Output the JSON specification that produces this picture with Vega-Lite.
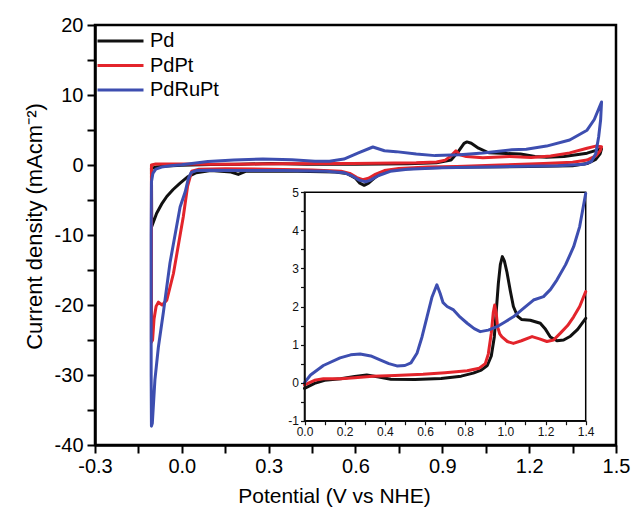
{
  "$schema": "https://vega.github.io/schema/vega-lite/v6.json",
  "width": 521,
  "height": 420,
  "autosize": {"type": "none"},
  "padding": {"left": 95, "top": 25, "right": 17, "bottom": 72},
  "background": "white",
  "config": {
    "view": {"stroke": "black", "strokeWidth": 2.5},
    "font": "Liberation Sans",
    "axis": {"labelFont": "Liberation Sans", "titleFont": "Liberation Sans", "labelColor": "black", "titleColor": "black", "domainColor": "black", "tickColor": "black", "grid": false, "titleFontWeight": "normal"}
  },
  "datasets": {
    "main": [
      {"s":"Pd","i":0,"V":-0.105,"I":-0.5},{"s":"Pd","i":1,"V":-0.09,"I":-0.3},{"s":"Pd","i":2,"V":-0.05,"I":-0.15},{"s":"Pd","i":3,"V":0,"I":-0.05},{"s":"Pd","i":4,"V":0.1,"I":0.06},{"s":"Pd","i":5,"V":0.2,"I":0.12},{"s":"Pd","i":6,"V":0.31,"I":0.2},{"s":"Pd","i":7,"V":0.43,"I":0.1},{"s":"Pd","i":8,"V":0.6,"I":0.1},{"s":"Pd","i":9,"V":0.78,"I":0.17},{"s":"Pd","i":10,"V":0.88,"I":0.33},{"s":"Pd","i":11,"V":0.93,"I":0.7},{"s":"Pd","i":12,"V":0.955,"I":1.9},{"s":"Pd","i":13,"V":0.975,"I":3.1},{"s":"Pd","i":14,"V":0.985,"I":3.3},{"s":"Pd","i":15,"V":1.0,"I":3.1},{"s":"Pd","i":16,"V":1.025,"I":2.4},{"s":"Pd","i":17,"V":1.06,"I":1.75},{"s":"Pd","i":18,"V":1.12,"I":1.64},{"s":"Pd","i":19,"V":1.17,"I":1.56},{"s":"Pd","i":20,"V":1.22,"I":1.2},{"s":"Pd","i":21,"V":1.26,"I":1.1},{"s":"Pd","i":22,"V":1.32,"I":1.22},{"s":"Pd","i":23,"V":1.4,"I":1.69},{"s":"Pd","i":24,"V":1.44,"I":2.2},{"s":"Pd","i":25,"V":1.45,"I":2.3},{"s":"Pd","i":26,"V":1.445,"I":1.6},{"s":"Pd","i":27,"V":1.43,"I":0.8},{"s":"Pd","i":28,"V":1.4,"I":0.2},{"s":"Pd","i":29,"V":1.35,"I":-0.1},{"s":"Pd","i":30,"V":1.2,"I":-0.2},{"s":"Pd","i":31,"V":1.0,"I":-0.3},{"s":"Pd","i":32,"V":0.85,"I":-0.4},{"s":"Pd","i":33,"V":0.75,"I":-0.6},{"s":"Pd","i":34,"V":0.7,"I":-0.9},{"s":"Pd","i":35,"V":0.67,"I":-1.7},{"s":"Pd","i":36,"V":0.645,"I":-2.6},{"s":"Pd","i":37,"V":0.63,"I":-2.9},{"s":"Pd","i":38,"V":0.615,"I":-2.6},{"s":"Pd","i":39,"V":0.6,"I":-1.9},{"s":"Pd","i":40,"V":0.57,"I":-1.2},{"s":"Pd","i":41,"V":0.53,"I":-1.0},{"s":"Pd","i":42,"V":0.4,"I":-0.9},{"s":"Pd","i":43,"V":0.3,"I":-0.85},{"s":"Pd","i":44,"V":0.22,"I":-0.9},{"s":"Pd","i":45,"V":0.195,"I":-1.35},{"s":"Pd","i":46,"V":0.17,"I":-1.0},{"s":"Pd","i":47,"V":0.1,"I":-0.8},{"s":"Pd","i":48,"V":0.05,"I":-1.1},{"s":"Pd","i":49,"V":0.02,"I":-1.7},{"s":"Pd","i":50,"V":-0.006,"I":-2.6},{"s":"Pd","i":51,"V":-0.03,"I":-3.5},{"s":"Pd","i":52,"V":-0.052,"I":-4.5},{"s":"Pd","i":53,"V":-0.07,"I":-5.6},{"s":"Pd","i":54,"V":-0.087,"I":-6.9},{"s":"Pd","i":55,"V":-0.104,"I":-8.8},{"s":"Pd","i":56,"V":-0.105,"I":-0.5},
      {"s":"PdPt","i":0,"V":-0.105,"I":0.0},{"s":"PdPt","i":1,"V":-0.09,"I":0.15},{"s":"PdPt","i":2,"V":0,"I":0.15},{"s":"PdPt","i":3,"V":0.1,"I":0.12},{"s":"PdPt","i":4,"V":0.18,"I":0.12},{"s":"PdPt","i":5,"V":0.34,"I":0.17},{"s":"PdPt","i":6,"V":0.59,"I":0.22},{"s":"PdPt","i":7,"V":0.81,"I":0.31},{"s":"PdPt","i":8,"V":0.88,"I":0.42},{"s":"PdPt","i":9,"V":0.91,"I":0.7},{"s":"PdPt","i":10,"V":0.93,"I":1.3},{"s":"PdPt","i":11,"V":0.947,"I":2.04},{"s":"PdPt","i":12,"V":0.961,"I":1.47},{"s":"PdPt","i":13,"V":0.983,"I":1.2},{"s":"PdPt","i":14,"V":1.04,"I":1.03},{"s":"PdPt","i":15,"V":1.133,"I":1.21},{"s":"PdPt","i":16,"V":1.207,"I":1.08},{"s":"PdPt","i":17,"V":1.274,"I":1.3},{"s":"PdPt","i":18,"V":1.34,"I":1.73},{"s":"PdPt","i":19,"V":1.4,"I":2.39},{"s":"PdPt","i":20,"V":1.43,"I":2.7},{"s":"PdPt","i":21,"V":1.45,"I":2.6},{"s":"PdPt","i":22,"V":1.445,"I":2.0},{"s":"PdPt","i":23,"V":1.43,"I":1.3},{"s":"PdPt","i":24,"V":1.4,"I":0.7},{"s":"PdPt","i":25,"V":1.35,"I":0.4},{"s":"PdPt","i":26,"V":1.25,"I":0.2},{"s":"PdPt","i":27,"V":1.1,"I":0.0},{"s":"PdPt","i":28,"V":0.95,"I":-0.2},{"s":"PdPt","i":29,"V":0.85,"I":-0.3},{"s":"PdPt","i":30,"V":0.75,"I":-0.5},{"s":"PdPt","i":31,"V":0.7,"I":-0.8},{"s":"PdPt","i":32,"V":0.67,"I":-1.3},{"s":"PdPt","i":33,"V":0.645,"I":-1.9},{"s":"PdPt","i":34,"V":0.625,"I":-2.1},{"s":"PdPt","i":35,"V":0.605,"I":-1.8},{"s":"PdPt","i":36,"V":0.58,"I":-1.2},{"s":"PdPt","i":37,"V":0.55,"I":-0.9},{"s":"PdPt","i":38,"V":0.45,"I":-0.7},{"s":"PdPt","i":39,"V":0.3,"I":-0.6},{"s":"PdPt","i":40,"V":0.15,"I":-0.55},{"s":"PdPt","i":41,"V":0.06,"I":-0.6},{"s":"PdPt","i":42,"V":0.034,"I":-0.9},{"s":"PdPt","i":43,"V":0.02,"I":-3.0},{"s":"PdPt","i":44,"V":0.005,"I":-7.4},{"s":"PdPt","i":45,"V":-0.029,"I":-15.5},{"s":"PdPt","i":46,"V":-0.052,"I":-19.3},{"s":"PdPt","i":47,"V":-0.068,"I":-20.0},{"s":"PdPt","i":48,"V":-0.081,"I":-19.6},{"s":"PdPt","i":49,"V":-0.089,"I":-20.2},{"s":"PdPt","i":50,"V":-0.096,"I":-22.0},{"s":"PdPt","i":51,"V":-0.101,"I":-25.0},{"s":"PdPt","i":52,"V":-0.105,"I":-25.3},{"s":"PdPt","i":53,"V":-0.105,"I":0.0},
      {"s":"PdRuPt","i":0,"V":-0.105,"I":-2.4},{"s":"PdRuPt","i":1,"V":-0.1,"I":-1.2},{"s":"PdRuPt","i":2,"V":-0.09,"I":-0.6},{"s":"PdRuPt","i":3,"V":-0.07,"I":-0.3},{"s":"PdRuPt","i":4,"V":-0.04,"I":-0.1},{"s":"PdRuPt","i":5,"V":0,"I":0.05},{"s":"PdRuPt","i":6,"V":0.09,"I":0.5},{"s":"PdRuPt","i":7,"V":0.18,"I":0.7},{"s":"PdRuPt","i":8,"V":0.28,"I":0.85},{"s":"PdRuPt","i":9,"V":0.38,"I":0.75},{"s":"PdRuPt","i":10,"V":0.46,"I":0.55},{"s":"PdRuPt","i":11,"V":0.51,"I":0.55},{"s":"PdRuPt","i":12,"V":0.56,"I":0.85},{"s":"PdRuPt","i":13,"V":0.61,"I":1.73},{"s":"PdRuPt","i":14,"V":0.66,"I":2.57},{"s":"PdRuPt","i":15,"V":0.7,"I":2.04},{"s":"PdRuPt","i":16,"V":0.74,"I":1.91},{"s":"PdRuPt","i":17,"V":0.81,"I":1.56},{"s":"PdRuPt","i":18,"V":0.875,"I":1.34},{"s":"PdRuPt","i":19,"V":0.96,"I":1.47},{"s":"PdRuPt","i":20,"V":1.04,"I":1.73},{"s":"PdRuPt","i":21,"V":1.14,"I":2.17},{"s":"PdRuPt","i":22,"V":1.19,"I":2.26},{"s":"PdRuPt","i":23,"V":1.26,"I":2.7},{"s":"PdRuPt","i":24,"V":1.34,"I":3.57},{"s":"PdRuPt","i":25,"V":1.4,"I":4.97},{"s":"PdRuPt","i":26,"V":1.425,"I":6.5},{"s":"PdRuPt","i":27,"V":1.44,"I":8.0},{"s":"PdRuPt","i":28,"V":1.45,"I":9.0},{"s":"PdRuPt","i":29,"V":1.447,"I":6.5},{"s":"PdRuPt","i":30,"V":1.44,"I":4.0},{"s":"PdRuPt","i":31,"V":1.43,"I":1.6},{"s":"PdRuPt","i":32,"V":1.415,"I":0.5},{"s":"PdRuPt","i":33,"V":1.39,"I":0.1},{"s":"PdRuPt","i":34,"V":1.3,"I":-0.1},{"s":"PdRuPt","i":35,"V":1.1,"I":-0.25},{"s":"PdRuPt","i":36,"V":0.9,"I":-0.4},{"s":"PdRuPt","i":37,"V":0.78,"I":-0.6},{"s":"PdRuPt","i":38,"V":0.72,"I":-0.9},{"s":"PdRuPt","i":39,"V":0.68,"I":-1.5},{"s":"PdRuPt","i":40,"V":0.65,"I":-2.2},{"s":"PdRuPt","i":41,"V":0.635,"I":-2.4},{"s":"PdRuPt","i":42,"V":0.615,"I":-2.2},{"s":"PdRuPt","i":43,"V":0.59,"I":-1.6},{"s":"PdRuPt","i":44,"V":0.56,"I":-1.1},{"s":"PdRuPt","i":45,"V":0.5,"I":-0.9},{"s":"PdRuPt","i":46,"V":0.35,"I":-0.8},{"s":"PdRuPt","i":47,"V":0.2,"I":-0.8},{"s":"PdRuPt","i":48,"V":0.1,"I":-0.75},{"s":"PdRuPt","i":49,"V":0.05,"I":-0.8},{"s":"PdRuPt","i":50,"V":0.032,"I":-1.1},{"s":"PdRuPt","i":51,"V":0.022,"I":-2.0},{"s":"PdRuPt","i":52,"V":0.012,"I":-3.8},{"s":"PdRuPt","i":53,"V":-0.006,"I":-6.0},{"s":"PdRuPt","i":54,"V":-0.041,"I":-14.0},{"s":"PdRuPt","i":55,"V":-0.064,"I":-21.1},{"s":"PdRuPt","i":56,"V":-0.081,"I":-26.0},{"s":"PdRuPt","i":57,"V":-0.093,"I":-30.7},{"s":"PdRuPt","i":58,"V":-0.102,"I":-36.9},{"s":"PdRuPt","i":59,"V":-0.105,"I":-37.3},{"s":"PdRuPt","i":60,"V":-0.106,"I":-30.0},{"s":"PdRuPt","i":61,"V":-0.106,"I":-10.0},{"s":"PdRuPt","i":62,"V":-0.105,"I":-2.4}
    ],
    "inset": [
      {"s":"Pd","i":0,"V":0,"I":-0.15},{"s":"Pd","i":1,"V":0.05,"I":-0.02},{"s":"Pd","i":2,"V":0.1,"I":0.06},{"s":"Pd","i":3,"V":0.18,"I":0.1},{"s":"Pd","i":4,"V":0.25,"I":0.16},{"s":"Pd","i":5,"V":0.31,"I":0.2},{"s":"Pd","i":6,"V":0.37,"I":0.15},{"s":"Pd","i":7,"V":0.43,"I":0.09},{"s":"Pd","i":8,"V":0.55,"I":0.08},{"s":"Pd","i":9,"V":0.68,"I":0.11},{"s":"Pd","i":10,"V":0.78,"I":0.17},{"s":"Pd","i":11,"V":0.84,"I":0.25},{"s":"Pd","i":12,"V":0.88,"I":0.33},{"s":"Pd","i":13,"V":0.91,"I":0.45},{"s":"Pd","i":14,"V":0.93,"I":0.7},{"s":"Pd","i":15,"V":0.945,"I":1.2},{"s":"Pd","i":16,"V":0.955,"I":1.9},{"s":"Pd","i":17,"V":0.965,"I":2.6},{"s":"Pd","i":18,"V":0.975,"I":3.1},{"s":"Pd","i":19,"V":0.985,"I":3.31},{"s":"Pd","i":20,"V":0.995,"I":3.2},{"s":"Pd","i":21,"V":1.008,"I":2.9},{"s":"Pd","i":22,"V":1.025,"I":2.4},{"s":"Pd","i":23,"V":1.04,"I":2.0},{"s":"Pd","i":24,"V":1.06,"I":1.75},{"s":"Pd","i":25,"V":1.08,"I":1.66},{"s":"Pd","i":26,"V":1.124,"I":1.64},{"s":"Pd","i":27,"V":1.174,"I":1.56},{"s":"Pd","i":28,"V":1.2,"I":1.4},{"s":"Pd","i":29,"V":1.224,"I":1.2},{"s":"Pd","i":30,"V":1.257,"I":1.1},{"s":"Pd","i":31,"V":1.29,"I":1.12},{"s":"Pd","i":32,"V":1.324,"I":1.22},{"s":"Pd","i":33,"V":1.36,"I":1.4},{"s":"Pd","i":34,"V":1.4,"I":1.69},
      {"s":"PdPt","i":0,"V":0,"I":-0.06},{"s":"PdPt","i":1,"V":0.05,"I":0.06},{"s":"PdPt","i":2,"V":0.094,"I":0.1},{"s":"PdPt","i":3,"V":0.18,"I":0.1},{"s":"PdPt","i":4,"V":0.25,"I":0.13},{"s":"PdPt","i":5,"V":0.34,"I":0.17},{"s":"PdPt","i":6,"V":0.45,"I":0.19},{"s":"PdPt","i":7,"V":0.59,"I":0.22},{"s":"PdPt","i":8,"V":0.7,"I":0.26},{"s":"PdPt","i":9,"V":0.81,"I":0.31},{"s":"PdPt","i":10,"V":0.87,"I":0.38},{"s":"PdPt","i":11,"V":0.9,"I":0.5},{"s":"PdPt","i":12,"V":0.915,"I":0.75},{"s":"PdPt","i":13,"V":0.93,"I":1.3},{"s":"PdPt","i":14,"V":0.94,"I":1.85},{"s":"PdPt","i":15,"V":0.947,"I":2.04},{"s":"PdPt","i":16,"V":0.955,"I":1.8},{"s":"PdPt","i":17,"V":0.961,"I":1.47},{"s":"PdPt","i":18,"V":0.972,"I":1.28},{"s":"PdPt","i":19,"V":0.983,"I":1.2},{"s":"PdPt","i":20,"V":1.01,"I":1.08},{"s":"PdPt","i":21,"V":1.04,"I":1.03},{"s":"PdPt","i":22,"V":1.08,"I":1.1},{"s":"PdPt","i":23,"V":1.133,"I":1.21},{"s":"PdPt","i":24,"V":1.17,"I":1.15},{"s":"PdPt","i":25,"V":1.207,"I":1.08},{"s":"PdPt","i":26,"V":1.24,"I":1.12},{"s":"PdPt","i":27,"V":1.274,"I":1.3},{"s":"PdPt","i":28,"V":1.31,"I":1.5},{"s":"PdPt","i":29,"V":1.34,"I":1.73},{"s":"PdPt","i":30,"V":1.37,"I":2.0},{"s":"PdPt","i":31,"V":1.4,"I":2.39},
      {"s":"PdRuPt","i":0,"V":0,"I":0.0},{"s":"PdRuPt","i":1,"V":0.03,"I":0.2},{"s":"PdRuPt","i":2,"V":0.094,"I":0.45},{"s":"PdRuPt","i":3,"V":0.177,"I":0.65},{"s":"PdRuPt","i":4,"V":0.23,"I":0.73},{"s":"PdRuPt","i":5,"V":0.277,"I":0.75},{"s":"PdRuPt","i":6,"V":0.33,"I":0.7},{"s":"PdRuPt","i":7,"V":0.376,"I":0.6},{"s":"PdRuPt","i":8,"V":0.42,"I":0.5},{"s":"PdRuPt","i":9,"V":0.46,"I":0.44},{"s":"PdRuPt","i":10,"V":0.5,"I":0.45},{"s":"PdRuPt","i":11,"V":0.53,"I":0.52},{"s":"PdRuPt","i":12,"V":0.56,"I":0.77},{"s":"PdRuPt","i":13,"V":0.585,"I":1.2},{"s":"PdRuPt","i":14,"V":0.61,"I":1.73},{"s":"PdRuPt","i":15,"V":0.635,"I":2.25},{"s":"PdRuPt","i":16,"V":0.659,"I":2.57},{"s":"PdRuPt","i":17,"V":0.675,"I":2.35},{"s":"PdRuPt","i":18,"V":0.69,"I":2.1},{"s":"PdRuPt","i":19,"V":0.71,"I":2.0},{"s":"PdRuPt","i":20,"V":0.742,"I":1.91},{"s":"PdRuPt","i":21,"V":0.775,"I":1.72},{"s":"PdRuPt","i":22,"V":0.81,"I":1.56},{"s":"PdRuPt","i":23,"V":0.845,"I":1.42},{"s":"PdRuPt","i":24,"V":0.875,"I":1.34},{"s":"PdRuPt","i":25,"V":0.915,"I":1.38},{"s":"PdRuPt","i":26,"V":0.958,"I":1.47},{"s":"PdRuPt","i":27,"V":1.0,"I":1.6},{"s":"PdRuPt","i":28,"V":1.04,"I":1.73},{"s":"PdRuPt","i":29,"V":1.09,"I":1.95},{"s":"PdRuPt","i":30,"V":1.14,"I":2.17},{"s":"PdRuPt","i":31,"V":1.19,"I":2.26},{"s":"PdRuPt","i":32,"V":1.225,"I":2.45},{"s":"PdRuPt","i":33,"V":1.257,"I":2.7},{"s":"PdRuPt","i":34,"V":1.3,"I":3.1},{"s":"PdRuPt","i":35,"V":1.34,"I":3.57},{"s":"PdRuPt","i":36,"V":1.37,"I":4.1},{"s":"PdRuPt","i":37,"V":1.4,"I":4.97}
    ]
  },
  "layer": [
    {
      "data": {"name": "main"},
      "mark": {"type": "line", "strokeWidth": 3, "strokeJoin": "round", "strokeCap": "round"},
      "encoding": {
        "x": {"field": "V", "type": "quantitative", "scale": {"domain": [-0.3, 1.5], "nice": false, "zero": false},
          "axis": {"values": [-0.3,-0.15,0,0.15,0.3,0.45,0.6,0.75,0.9,1.05,1.2,1.35,1.5], "labelExpr": "round(datum.value*100) % 30 === 0 ? replace(format(datum.value, '.1f'), '\u2212', '-') : ''", "tickSize": 8, "tickWidth": 2, "domainWidth": 2.5, "labelFontSize": 20, "labelPadding": 3, "labelFlush": false, "labelOverlap": false, "title": "Potential (V vs NHE)", "titleFontSize": 21, "titlePadding": 9, "titleX": 239}},
        "y": {"field": "I", "type": "quantitative", "scale": {"domain": [-40, 20], "nice": false, "zero": false},
          "axis": {"values": [-40,-35,-30,-25,-20,-15,-10,-5,0,5,10,15,20], "labelExpr": "datum.value % 10 === 0 ? toString(datum.value) : ''", "tickSize": 8, "tickWidth": 2, "domainWidth": 2.5, "labelFontSize": 20, "labelPadding": 4, "labelFlush": false, "labelOverlap": false, "title": "Current density (mAcm\u207b\u00b2)", "titleFontSize": 22, "titlePadding": 8, "titleY": 201}},
        "color": {"field": "s", "type": "nominal", "scale": {"domain": ["Pd", "PdPt", "PdRuPt"], "range": ["#111111", "#e3242b", "#3d4eb0"]},
          "legend": {"title": null, "orient": "none", "legendX": 1, "legendY": 6, "symbolType": "stroke", "symbolSize": 2116, "symbolStrokeWidth": 3, "labelFontSize": 20, "labelFont": "Liberation Sans", "labelColor": "black", "clipHeight": 20, "rowPadding": 4.5, "labelOffset": 5}},
        "order": {"field": "i", "type": "quantitative"}
      }
    },
    {
      "data": {"values": [{}]},
      "mark": {"type": "rect", "fill": "white", "stroke": "black", "strokeWidth": 1.5},
      "encoding": {
        "x": {"datum": 0, "type": "quantitative", "scale": {"domain": [0, 1.4], "range": [209.5, 490.7], "nice": false, "zero": false}, "axis": null},
        "x2": {"datum": 1.4},
        "y": {"datum": -1, "type": "quantitative", "scale": {"domain": [-1, 5], "range": [395.7, 167.3], "nice": false, "zero": false}, "axis": null},
        "y2": {"datum": 5}
      }
    },
    {
      "data": {"name": "inset"},
      "mark": {"type": "line", "strokeWidth": 3, "strokeJoin": "round", "strokeCap": "round"},
      "encoding": {
        "x": {"field": "V", "type": "quantitative", "scale": {"domain": [0, 1.4], "range": [209.5, 490.7], "nice": false, "zero": false},
          "axis": {"orient": "bottom", "offset": -24.3, "zindex": 2, "values": [0,0.1,0.2,0.3,0.4,0.5,0.6,0.7,0.8,0.9,1.0,1.1,1.2,1.3,1.4], "labelExpr": "round(datum.value*10) % 2 === 0 ? format(datum.value, '.1f') : ''", "tickSize": 4, "tickWidth": 1.2, "domainWidth": 1.5, "labelFontSize": 12, "labelPadding": 2, "labelColor": "#111111", "tickColor": "#111111", "domainColor": "#111111", "labelFlush": false, "labelOverlap": false, "title": null}},
        "y": {"field": "I", "type": "quantitative", "scale": {"domain": [-1, 5], "range": [395.7, 167.3], "nice": false, "zero": false},
          "axis": {"orient": "left", "offset": -209.5, "zindex": 2, "values": [-1,-0.5,0,0.5,1,1.5,2,2.5,3,3.5,4,4.5,5], "labelExpr": "datum.value % 1 === 0 ? toString(datum.value) : ''", "tickSize": 4, "tickWidth": 1.2, "domainWidth": 1.5, "labelFontSize": 12, "labelPadding": 2, "labelColor": "#111111", "tickColor": "#111111", "domainColor": "#111111", "labelFlush": false, "labelOverlap": false, "title": null}},
        "color": {"field": "s", "type": "nominal", "legend": null},
        "order": {"field": "i", "type": "quantitative"}
      }
    }
  ],
  "resolve": {"scale": {"x": "independent", "y": "independent"}, "axis": {"x": "independent", "y": "independent"}}
}
